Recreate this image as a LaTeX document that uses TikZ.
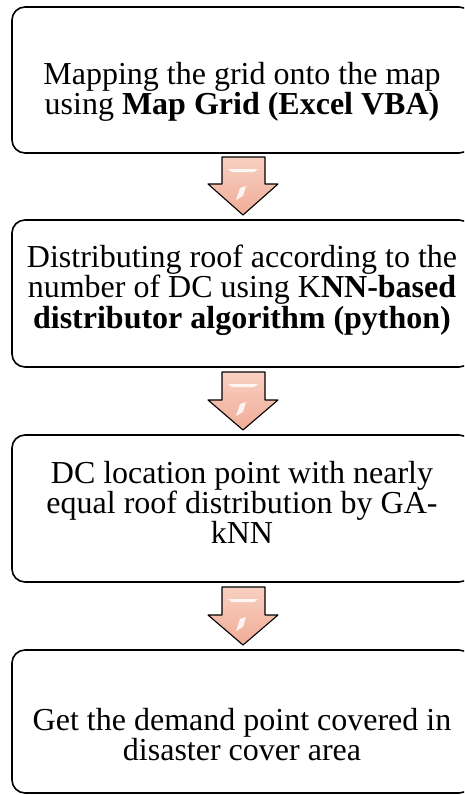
\documentclass[tikz,border=0pt]{standalone}
\usepackage{fontspec}
\setmainfont{Liberation Serif}
\usetikzlibrary{calc}
\definecolor{arrowtop}{RGB}{248,208,194}
\definecolor{arrowbot}{RGB}{240,172,150}
\tikzset{
  stepbox/.style={draw=black, line width=1.6pt, rounded corners=13pt, fill=white},
  steptext/.style={align=center, inner sep=0pt,
    font=\fontsize{32}{27}\selectfont},
  flowarrow/.style={draw=black, line width=1.1pt, line join=round,
    top color=arrowtop, bottom color=arrowbot},
  glint/.style={fill=white, draw=none, opacity=0.85}
}
% down arrow: #1 = top of shaft (y), #2 = start of head (y), #3 = tip (y)
\newcommand{\downarrowshape}[4]{%
  \draw[flowarrow] (222,#1) -- (265,#1) -- (265,#2) -- (278,#2) -- (243,#3)
    -- (208,#2) -- (222,#2) -- cycle;
  \fill[glint] (228,{#1+12}) -- (258,{#1+12}) -- (254,{#1+15}) -- (232,{#1+15}) -- cycle;
  \fill[glint] (240,{#2+4}) -- (246,{#2+2}) -- (243,{#2+12}) -- (236,{#2+16}) -- cycle;
  \coordinate (#4) at (243,#3);
}
\begin{document}
\begin{tikzpicture}[x=1pt, y=-1pt]
  \useasboundingbox (0,0) rectangle (464,795);
  \clip (0,0) rectangle (464,795);

  % the four process boxes
  \draw[stepbox] (12,7) rectangle (472,153);
  \node[coordinate] (b1) at (242,153) {};
  \draw[stepbox] (12,220) rectangle (472,367);
  \node[coordinate] (b2top) at (242,220) {};
  \node[coordinate] (b2) at (242,367) {};
  \draw[stepbox] (12,435) rectangle (472,582);
  \node[coordinate] (b3top) at (242,435) {};
  \node[coordinate] (b3) at (242,582) {};
  \draw[stepbox] (12,650) rectangle (472,793);
  \node[coordinate] (b4top) at (242,650) {};

  % texts
  \node[steptext] (t1) at (242,91.5) {Mapping the grid onto the map\\
    using \textbf{Map Grid (Excel VBA)}};
  \node[steptext] (t2) at (242,290) {Distributing roof according to the\\
    number of DC using K\textbf{NN-based}\\
    \textbf{distributor algorithm (python)}};
  \node[steptext] (t3) at (242,502.5) {DC location point with nearly\\
    equal roof distribution by GA-\\
    kNN};
  \node[steptext] (t4) at (242,734.5) {Get the demand point covered in\\
    disaster cover area};

  % block arrows between the boxes
  \downarrowshape{157}{184}{215}{a1}
  \downarrowshape{372}{400}{430}{a2}
  \downarrowshape{587}{615}{645}{a3}
\end{tikzpicture}
\end{document}
